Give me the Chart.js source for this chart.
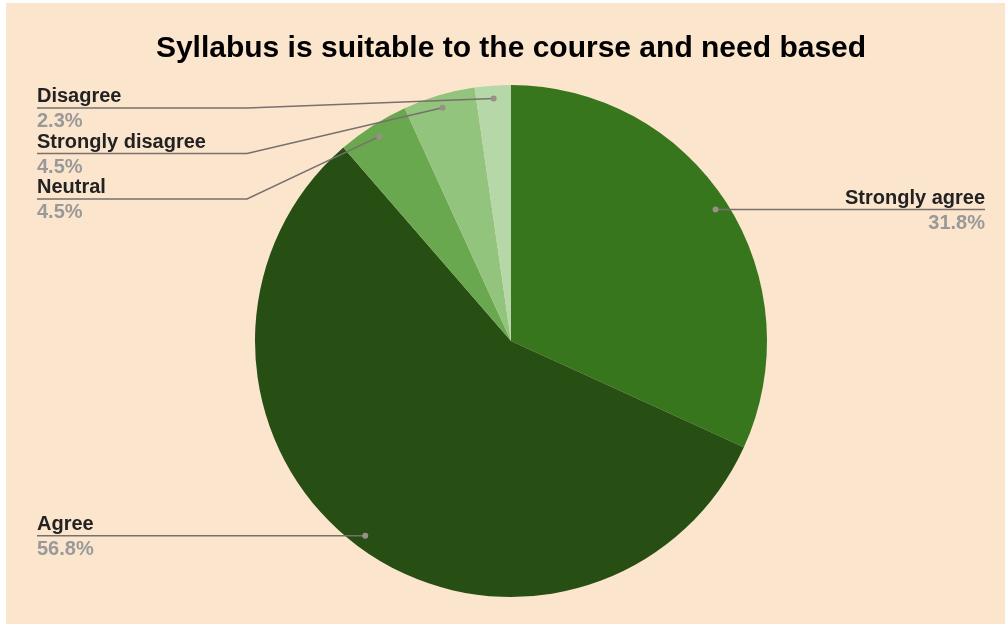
<!DOCTYPE html>
<html>
<head>
<meta charset="utf-8">
<title>Syllabus is suitable to the course and need based</title>
<script src="https://cdn.jsdelivr.net/npm/chart.js@4.4.1/dist/chart.umd.min.js"></script>
<style>
  html, body { margin: 0; padding: 0; background: #ffffff; }
  #wrap {
    position: absolute;
    left: 6px;
    top: 3px;
    width: 999px;
    height: 621px;
    background: #fce5cd;
  }
</style>
</head>
<body>
<div id="wrap"><canvas id="chart" width="999" height="621"></canvas></div>
<script>
const chartTitle = "Syllabus is suitable to the course and need based";
const answers = ["Strongly agree", "Agree", "Neutral", "Strongly disagree", "Disagree"];
const responses = [14, 25, 2, 2, 1];
const sliceColors = ["#38761d", "#274e13", "#6aa84f", "#93c47d", "#b6d7a8"];

const labelFont = "bold 20px 'Liberation Sans', Arial, sans-serif";

// draws the leader lines + name / percent labels like the Sheets pie
const leaderLabels = {
  id: "leaderLabels",
  afterDatasetsDraw(chart) {
    const ctx = chart.ctx;
    const arcs = chart.getDatasetMeta(0).data;
    const total = responses.reduce((a, b) => a + b, 0);

    const items = arcs.map((arc, i) => {
      const mid = (arc.startAngle + arc.endAngle) / 2;
      const r = arc.outerRadius * 0.95;
      return {
        i: i,
        px: arc.x + Math.cos(mid) * r,
        py: arc.y + Math.sin(mid) * r,
        right: Math.cos(mid) > 0
      };
    });

    const minY = 105;
    const gap = 45.5;
    [true, false].forEach(side => {
      const group = items.filter(it => it.right === side).sort((a, b) => a.py - b.py);
      let prev = minY - gap;
      group.forEach(it => {
        it.ly = Math.max(it.py, prev + gap);
        prev = it.ly;
      });
    });

    ctx.save();
    items.forEach(it => {
      const pct = (responses[it.i] / total * 100).toFixed(1) + "%";
      ctx.strokeStyle = "#77706c";
      ctx.lineWidth = 1.5;
      ctx.beginPath();
      if (it.right) {
        ctx.moveTo(it.px, it.py);
        ctx.lineTo(979, it.ly);
      } else {
        ctx.moveTo(31, it.ly);
        if (Math.abs(it.ly - it.py) > 1) {
          ctx.lineTo(241, it.ly);
        }
        ctx.lineTo(it.px, it.py);
      }
      ctx.stroke();

      ctx.fillStyle = "#9a8e89";
      ctx.beginPath();
      ctx.arc(it.px, it.py, 3, 0, Math.PI * 2);
      ctx.fill();

      ctx.font = labelFont;
      ctx.textBaseline = "alphabetic";
      ctx.textAlign = it.right ? "right" : "left";
      const tx = it.right ? 979 : 31;
      ctx.fillStyle = "#222222";
      ctx.fillText(answers[it.i], tx, it.ly - 6);
      ctx.fillStyle = "#999999";
      ctx.fillText(pct, tx, it.ly + 19);
    });
    ctx.restore();
  }
};

new Chart(document.getElementById("chart"), {
  type: "pie",
  data: {
    labels: answers,
    datasets: [{
      data: responses,
      backgroundColor: sliceColors,
      borderWidth: 0
    }]
  },
  options: {
    responsive: false,
    animation: false,
    layout: {
      padding: { top: 0, bottom: 27, left: 11, right: 0 }
    },
    plugins: {
      legend: { display: false },
      tooltip: { enabled: false },
      title: {
        display: true,
        text: chartTitle,
        color: "#000000",
        font: { family: "'Liberation Sans', Arial, sans-serif", size: 30, weight: "bold" },
        padding: { top: 28, bottom: 18 }
      }
    }
  },
  plugins: [leaderLabels]
});
</script>
</body>
</html>
